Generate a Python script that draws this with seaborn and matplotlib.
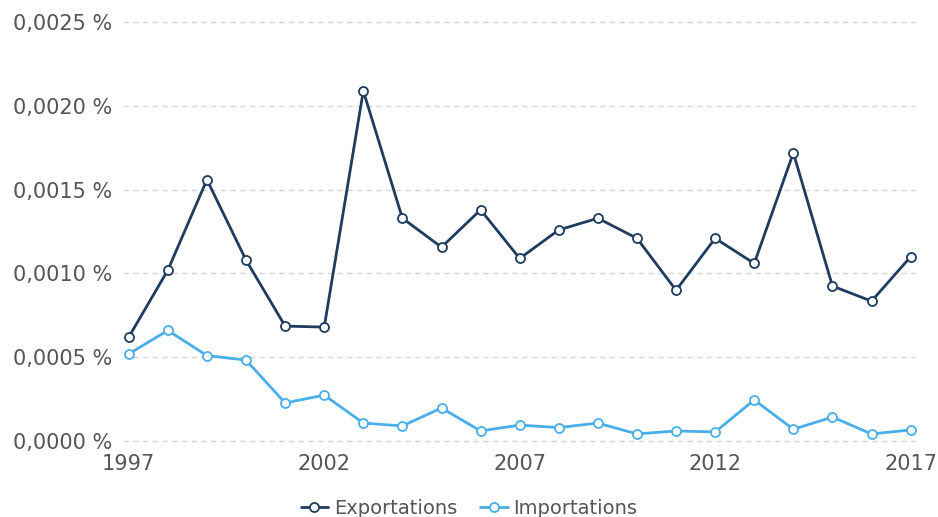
import matplotlib
matplotlib.use("Agg")
import matplotlib.pyplot as plt
from matplotlib.ticker import FuncFormatter
import seaborn as sns
import pandas as pd

# Data (share in %)
years = list(range(1997, 2018))
exportations = [0.00062, 0.00102, 0.00156, 0.00108, 0.000686, 0.00068, 0.00209,
                0.00133, 0.001157, 0.00138, 0.00109, 0.00126, 0.00133, 0.00121,
                0.00090, 0.00121, 0.00106, 0.00172, 0.000925, 0.000835, 0.00110]
importations = [0.00052, 0.00066, 0.00051, 0.000483, 0.000227, 0.000274, 0.000107,
                0.00009, 0.000197, 0.00006, 0.000095, 0.00008, 0.000107, 0.000042,
                0.00006, 0.000054, 0.000245, 0.00007, 0.000143, 0.000042, 0.000066]
series_names = ["Exportations", "Importations"]
colors = {"Exportations": "#1f3b5e", "Importations": "#4aaee8"}

df = pd.DataFrame({"year": years * 2,
                   "value": exportations + importations,
                   "serie": [series_names[0]] * len(years) + [series_names[1]] * len(years)})

sns.set_style("white")
plt.rcParams["font.family"] = ["DejaVu Sans"]

fig = plt.figure(figsize=(9.38, 5.17), dpi=100)
ax = fig.add_axes([0.131, 0.147, 0.844, 0.810])

for name in series_names:
    sub = df[df["serie"] == name]
    sns.lineplot(data=sub, x="year", y="value", ax=ax, color=colors[name],
                 linewidth=2.0, marker="o", markersize=6.5, markerfacecolor="white",
                 markeredgecolor=colors[name], markeredgewidth=1.3,
                 label=name, clip_on=False, zorder=3)

ax.set_xlim(1996.85, 2017.1)
ax.set_ylim(0, 0.0025)
ax.set_xticks([1997, 2002, 2007, 2012, 2017])
ax.set_yticks([0, 0.0005, 0.0010, 0.0015, 0.0020, 0.0025])
ax.yaxis.set_major_formatter(FuncFormatter(lambda v, p: f"{v:.4f}".replace(".", ",") + " %"))
ax.grid(axis="y", color="#d6d6d6", linestyle=(0, (4, 3)), linewidth=1)
ax.grid(axis="x", visible=False)
for gl in ax.get_ygridlines():
    gl.set_clip_on(False)
for s in ax.spines.values():
    s.set_visible(False)
ax.tick_params(axis="both", length=0, labelsize=15, colors="#555555")
ax.tick_params(axis="y", pad=8)
ax.tick_params(axis="x", pad=9)
ax.set_xlabel("")
ax.set_ylabel("")

handles, labels = ax.get_legend_handles_labels()
ax.get_legend().remove()
fig.legend(handles, labels, loc="lower center", bbox_to_anchor=(0.5, -0.035), ncol=2,
           frameon=False, fontsize=14, labelcolor="#555555", handlelength=1.4,
           handletextpad=0.3, columnspacing=1.2)

fig.savefig("out.png", dpi=100)
